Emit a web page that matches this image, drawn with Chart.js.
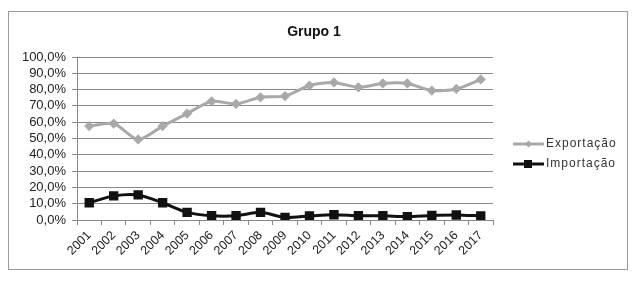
<!DOCTYPE html>
<html>
<head>
<meta charset="utf-8">
<script src="https://cdn.jsdelivr.net/npm/chart.js@4/dist/chart.umd.min.js"></script>
<style>
  body { margin: 0; background: #fff; }
  #frame { position: absolute; left: 8px; top: 11px; width: 618px; height: 257px; border: 1px solid #9a9a9a; }
  canvas { display: block; }
</style>
</head>
<body>
<div id="frame"><canvas id="grupoChart" width="618" height="257"></canvas></div>
<script>
const anos = ["2001","2002","2003","2004","2005","2006","2007","2008","2009","2010","2011","2012","2013","2014","2015","2016","2017"];
const exportacao = [57.6, 59.2, 49.4, 57.6, 65.3, 72.8, 71.2, 75.3, 76.0, 82.5, 84.4, 81.4, 83.8, 83.8, 79.4, 80.4, 86.2];
const importacao = [10.6, 14.8, 15.4, 10.6, 4.7, 2.6, 2.6, 4.7, 1.6, 2.5, 3.2, 2.6, 2.6, 2.1, 2.8, 3.1, 2.5];
const titulo = "Grupo 1";

// título e legenda desenhados à mão (legenda com linha + marcador, como no original)
const tituloELegenda = {
  id: "tituloELegenda",
  afterDraw(chart) {
    const ctx = chart.ctx;
    ctx.save();
    ctx.fillStyle = "#111";
    ctx.font = "bold 14px 'Liberation Sans', Arial, sans-serif";
    ctx.textAlign = "center";
    ctx.textBaseline = "middle";
    ctx.fillText(titulo, 305, 20);

    ctx.textAlign = "left";
    chart.data.datasets.forEach((ds, i) => {
      const y = 132 + i * 20;
      ctx.strokeStyle = ds.borderColor;
      ctx.lineWidth = 3;
      ctx.beginPath();
      ctx.moveTo(504, y);
      ctx.lineTo(535, y);
      ctx.stroke();
      ctx.fillStyle = ds.pointBackgroundColor;
      if (ds.pointStyle === "rect") {
        ctx.fillRect(515, y - 4, 8, 8);
      } else {
        ctx.beginPath();
        ctx.moveTo(519.5, y - 3.5);
        ctx.lineTo(523, y);
        ctx.lineTo(519.5, y + 3.5);
        ctx.lineTo(516, y);
        ctx.closePath();
        ctx.fill();
      }
      ctx.fillStyle = "#333";
      ctx.font = "12px 'Liberation Sans', Arial, sans-serif";
      ctx.letterSpacing = "1px";
      ctx.fillText(ds.label, 537, y);
      ctx.letterSpacing = "0px";
    });
    ctx.restore();
  }
};

const ctx = document.getElementById("grupoChart").getContext("2d");
new Chart(ctx, {
  type: "line",
  data: {
    labels: anos,
    datasets: [
      {
        label: "Exportação",
        data: exportacao,
        borderColor: "#a9a9a9",
        backgroundColor: "#a9a9a9",
        pointBackgroundColor: "#a9a9a9",
        pointBorderColor: "#a9a9a9",
        pointStyle: "rectRot",
        pointRadius: 3,
        borderWidth: 3,
        tension: 0.25,
        fill: false,
      },
      {
        label: "Importação",
        data: importacao,
        borderColor: "#111",
        backgroundColor: "#111",
        pointBackgroundColor: "#111",
        pointBorderColor: "#111",
        pointStyle: "rect",
        pointRadius: 4.5,
        borderWidth: 3,
        tension: 0.25,
        fill: false,
      },
    ],
  },
  options: {
    responsive: false,
    animation: false,
    layout: { padding: { left: 0, right: 134, top: 45, bottom: 0 } },
    plugins: {
      legend: { display: false },
      tooltip: { enabled: false },
      title: { display: false },
    },
    scales: {
      x: {
        offset: true,
        afterFit: (s) => { s.height = 49; },
        grid: { offset: true, drawOnChartArea: false, drawTicks: true, tickLength: 5, color: "#888" },
        border: { color: "#888" },
        ticks: {
          autoSkip: false,
          minRotation: 45,
          maxRotation: 45,
          color: "#222",
          padding: 3,
          font: { family: "'Liberation Sans', Arial, sans-serif", size: 12.5 },
        },
      },
      y: {
        min: 0,
        max: 100,
        afterFit: (s) => { s.width = 68; },
        grid: { color: "#888", tickLength: 5 },
        border: { color: "#888" },
        ticks: {
          autoSkip: false,
          stepSize: 10,
          color: "#222",
          padding: 6,
          font: { family: "'Liberation Sans', Arial, sans-serif", size: 13 },
          callback: (v) => v.toFixed(1).replace(".", ",") + "%",
        },
      },
    },
  },
  plugins: [tituloELegenda],
});
</script>
</body>
</html>
